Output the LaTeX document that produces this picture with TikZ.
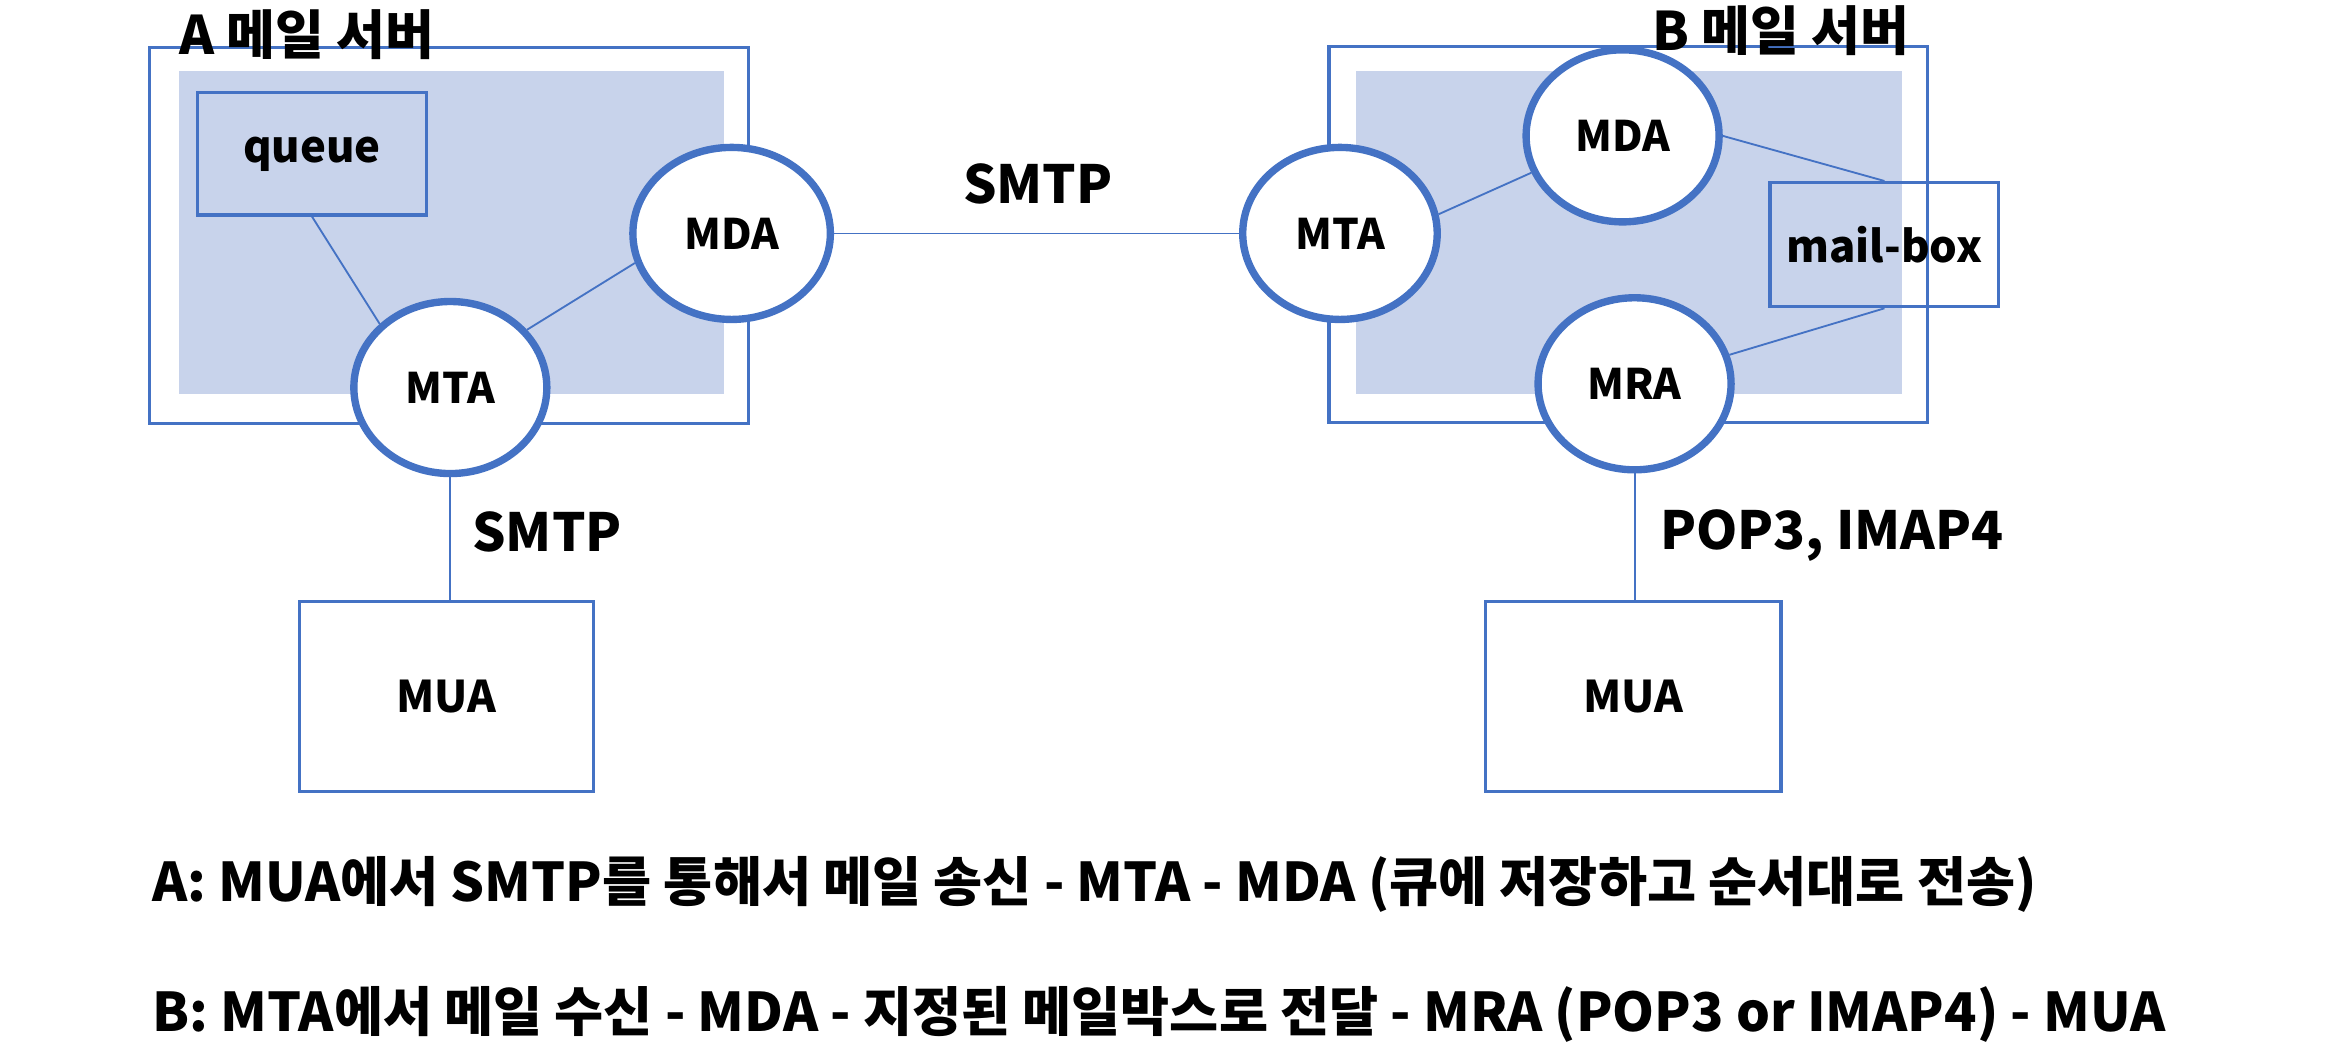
\documentclass[tikz,border=0pt]{standalone}
\usepackage{fontspec}
\setmainfont{Noto Sans CJK KR}
\usetikzlibrary{shapes.geometric}

\definecolor{mailblue}{RGB}{68,114,196}
\definecolor{areablue}{RGB}{200,211,235}

\tikzset{
  agent/.style = {ellipse, draw=mailblue, line width=1.4pt, fill=white,
    inner sep=0pt, minimum width=1.29cm, minimum height=1.15cm,
    font=\fontsize{8}{8}\selectfont\bfseries},
  store/.style = {rectangle, draw=mailblue, line width=0.6pt, inner sep=0pt,
    font=\fontsize{8.3}{8.3}\selectfont\bfseries},
  server/.style = {rectangle, draw=mailblue, line width=0.6pt, inner sep=0pt,
    minimum width=4cm, minimum height=2.51cm},
  area/.style = {rectangle, fill=areablue, inner sep=0pt,
    minimum width=3.645cm, minimum height=2.155cm},
  link/.style = {draw=mailblue, line width=0.35pt},
  proto/.style = {inner sep=0pt, anchor=base west,
    font=\fontsize{10}{10}\selectfont\bfseries},
  note/.style = {inner sep=0pt, anchor=base west,
    font=\fontsize{10.15}{10.15}\selectfont\bfseries}
}

\begin{document}
\begin{tikzpicture}
  \useasboundingbox (0,0) rectangle (15.6,-7.005);

  % server A
  \node[server] (srvA) at (3.00,-1.575) {};
  \node[area] (areaA) at (3.0175,-1.5525) {};
  \node[proto, font=\fontsize{10.1}{10.1}\selectfont\bfseries] (titleA) at (1.19,-0.363) {A 메일 서버};
  \node[store, minimum width=1.53cm, minimum height=0.817cm] (queue) at (2.085,-1.028) {queue};

  % server B
  \node[server] (srvB) at (10.8825,-1.568) {};
  \node[area] (areaB) at (10.8875,-1.5525) {};
  \node[proto, font=\fontsize{10.1}{10.1}\selectfont\bfseries] (titleB) at (11.04,-0.34) {B 메일 서버};

  \node[agent] (mtaA) at (3.01,-2.59) {MTA};
  \node[agent, minimum width=1.32cm] (mdaA) at (4.89,-1.56) {MDA};
  \node[agent, minimum width=1.30cm] (mtaB) at (8.956,-1.56) {MTA};
  \node[agent] (mdaB) at (10.845,-0.908) {MDA};
  \node[agent] (mraB) at (10.925,-2.565) {MRA};

  \node[store, minimum width=1.965cm, minimum height=1.272cm] (muaA) at (2.983,-4.654) {MUA};
  \node[store, minimum width=1.974cm, minimum height=1.272cm] (muaB) at (10.917,-4.654) {MUA};

  % connectors
  \draw[link] (queue.south) -- (mtaA.138);
  \draw[link] (mtaA.37) -- (mdaA.197);
  \draw[link] (mdaA.east) -- (mtaB.west);
  \draw[link] (mtaB.11) -- (mdaB.202);
  \draw[link] (mtaA.south) -- (mtaA.south |- muaA.north);
  \draw[link] (mraB.south) -- (mraB.south |- muaB.north);

  \node[store, fill=none, minimum width=1.53cm, minimum height=0.83cm] (mailbox) at (12.595,-1.635) {mail-box};
  \draw[link] (mdaB.east) -- (mailbox.north);
  \draw[link] (mraB.17) -- (mailbox.south);

  % protocol labels
  \node[proto] (smtpMid) at (6.43,-1.358) {SMTP};
  \node[proto] (smtpA) at (3.15,-3.688) {SMTP};
  \node[proto] (popB) at (11.09,-3.67) {POP3, IMAP4};

  % notes
  \node[note] (noteA) at (1.01,-6.027) {A: MUA에서 SMTP를 통해서 메일 송신 - MTA - MDA (큐에 저장하고 순서대로 전송)};
  \node[note] (noteB) at (1.01,-6.896) {B: MTA에서 메일 수신 - MDA - 지정된 메일박스로 전달 - MRA (POP3 or IMAP4) - MUA};
\end{tikzpicture}
\end{document}
